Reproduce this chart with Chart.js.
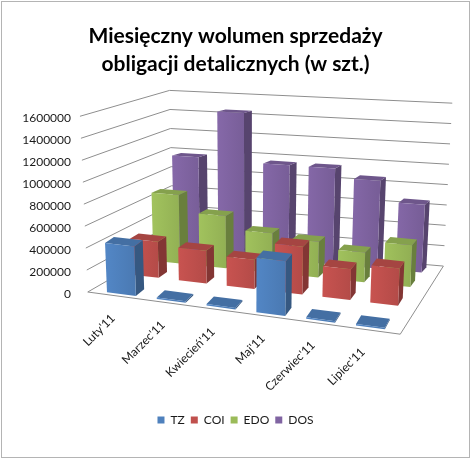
<!DOCTYPE html>
<html>
<head>
<meta charset="utf-8">
<script src="https://cdn.jsdelivr.net/npm/chart.js@4.4.1/dist/chart.umd.min.js"></script>
<style>
  html, body { margin: 0; padding: 0; background: #fff; }
  #wrap { width: 471px; height: 459px; }
</style>
</head>
<body>
<div id="wrap"><canvas id="barChart" width="471" height="459"></canvas></div>
<script>
const categories = ["Luty'11", "Marzec'11", "Kwiecień'11", "Maj'11", "Czerwiec'11", "Lipiec'11"];
const tzValues  = [450000, 0, 0, 485000, 0, 0];
const coiValues = [340000, 305000, 270000, 440000, 280000, 335000];
const edoValues = [670000, 505000, 380000, 340000, 280000, 390000];
const dosValues = [965000, 1440000, 945000, 945000, 855000, 655000];
const yTickValues = [0, 200000, 400000, 600000, 800000, 1000000, 1200000, 1400000, 1600000];

const FONT = 'Lato, "Open Sans", sans-serif';
const TEXT = '#1a1a1a';

// pseudo 3D look (Excel style): floor, walls and boxes projected from the bar elements
const M = 0.02;                       // side margin of the floor
const rowDepth = [0.03, 0.32, 0.59, 0.84];
const barDepth = 0.105;

function shade(hex, f) {
  const n = parseInt(hex.slice(1), 16);
  const r = Math.round(((n >> 16) & 255) * f), g = Math.round(((n >> 8) & 255) * f), b = Math.round((n & 255) * f);
  return 'rgb(' + Math.min(r, 255) + ',' + Math.min(g, 255) + ',' + Math.min(b, 255) + ')';
}

function makeProj(ca) {
  const W = ca.right - ca.left, H = ca.bottom - ca.top;
  const span = W / (1 - 2 * M);
  const x0 = ca.left - M * span, y0 = ca.bottom;
  const fl = [x0, y0], fr = [x0 + span, y0 + 0.135 * span];
  const bl = [x0 + 0.272 * span, y0 - 0.157 * span], br = [x0 + 1.138 * span, y0 - 0.083 * span];
  const cx = x0 + 0.51 * span, ld = 11.5 * span;
  const bil = (a, b, c, d, t, u) => (1 - t) * (1 - u) * a + t * (1 - u) * b + (1 - t) * u * c + t * u * d;
  return {
    H: H,
    t: px => M + (px - ca.left) / W * (1 - 2 * M),
    p(t, d, frac, minPx) {
      const dv = d + 0.33 * d * (1 - d);   // rough foreshortening of depth
      const fx = bil(fl[0], fr[0], bl[0], br[0], t, d);
      const fy = bil(fl[1], fr[1], bl[1], br[1], t, dv);
      const k = bil(1, 1.05, 0.868, 0.927, t, d);
      const h = Math.max(frac * H * k, minPx || 0);
      return [fx + (fx - cx) / ld * h, fy - h];
    }
  };
}

function poly(ctx, pts, fill) {
  ctx.beginPath();
  ctx.moveTo(pts[0][0], pts[0][1]);
  for (let i = 1; i < pts.length; i++) ctx.lineTo(pts[i][0], pts[i][1]);
  ctx.closePath();
  ctx.fillStyle = fill;
  ctx.fill();
}

const box3d = {
  id: 'box3d',
  beforeDatasetsDraw(chart) {
    const ctx = chart.ctx, ca = chart.chartArea;
    const pr = makeProj(ca);
    const yScale = chart.scales.y;

    // walls
    ctx.save();
    ctx.strokeStyle = '#8e8e8e';
    ctx.lineWidth = 1;
    yTickValues.forEach(v => {
      const f = (yScale.getPixelForValue(0) - yScale.getPixelForValue(v)) / pr.H;
      const a = pr.p(0, 0, f), b = pr.p(0, 1, f), c = pr.p(1, 1, f);
      ctx.beginPath();
      ctx.moveTo(a[0], a[1]); ctx.lineTo(b[0], b[1]); ctx.lineTo(c[0], c[1]);
      ctx.stroke();
    });
    const f0 = pr.p(0, 0, 0), f1 = pr.p(1, 0, 0), f2 = pr.p(1, 1, 0);
    ctx.beginPath();
    ctx.moveTo(f0[0], f0[1]); ctx.lineTo(f1[0], f1[1]); ctx.lineTo(f2[0], f2[1]);
    ctx.stroke();

    // boxes, back row first
    for (let di = chart.data.datasets.length - 1; di >= 0; di--) {
      const meta = chart.getDatasetMeta(di);
      const color = chart.data.datasets[di].backgroundColor;
      const d0 = rowDepth[di], d1 = d0 + barDepth;
      meta.data.forEach(el => {
        const p = el.getProps(['x', 'y', 'base', 'width'], true);
        const t0 = pr.t(p.x - p.width / 2), t1 = pr.t(p.x + p.width / 2);
        const fr = (p.base - p.y) / pr.H;
        const mp = 1.5;
        const a0 = pr.p(t0, d0, 0), a1 = pr.p(t1, d0, 0), a2 = pr.p(t1, d0, fr, mp), a3 = pr.p(t0, d0, fr, mp);
        const b1 = pr.p(t1, d1, 0), b2 = pr.p(t1, d1, fr, mp), b3 = pr.p(t0, d1, fr, mp);
        poly(ctx, [a1, b1, b2, a2], shade(color, 0.68));
        poly(ctx, [a3, a2, b2, b3], shade(color, 0.86));
        const g = ctx.createLinearGradient(a0[0], 0, a1[0], 0);
        g.addColorStop(0, shade(color, 1.04));
        g.addColorStop(1, shade(color, 0.94));
        poly(ctx, [a0, a1, a2, a3], g);
      });
    }
    ctx.restore();
    return false;
  },
  afterDraw(chart) {
    const ctx = chart.ctx, ca = chart.chartArea;
    const pr = makeProj(ca);
    const xScale = chart.scales.x;
    ctx.save();
    ctx.font = '12px ' + FONT;
    ctx.fillStyle = TEXT;
    ctx.textAlign = 'right';
    ctx.textBaseline = 'middle';
    chart.data.labels.forEach((lab, i) => {
      const q = pr.p(pr.t(xScale.getPixelForValue(i)), 0, 0);
      ctx.save();
      ctx.translate(q[0] - 6, q[1] + 20);
      ctx.rotate(-Math.PI / 4);
      ctx.fillText(lab, 0, 0);
      ctx.restore();
    });
    ctx.strokeStyle = '#b4b4b4';
    ctx.lineWidth = 1;
    ctx.strokeRect(1.5, 1.5, chart.width - 3, chart.height - 3);
    ctx.restore();
  }
};

new Chart(document.getElementById('barChart').getContext('2d'), {
  type: 'bar',
  data: {
    labels: categories,
    datasets: [
      { label: 'TZ', data: tzValues, backgroundColor: '#4F81BD' },
      { label: 'COI', data: coiValues, backgroundColor: '#C0504D' },
      { label: 'EDO', data: edoValues, backgroundColor: '#9BBB59' },
      { label: 'DOS', data: dosValues, backgroundColor: '#8064A2' }
    ]
  },
  options: {
    responsive: false,
    animation: false,
    devicePixelRatio: 1,
    layout: { padding: { left: 0, right: 0, top: 0, bottom: 23 } },
    datasets: { bar: { grouped: false, categoryPercentage: 1, barPercentage: 0.58 } },
    scales: {
      x: {
        grid: { display: false },
        border: { display: false },
        ticks: { display: false },
        afterFit(s) { s.height = 116; }
      },
      y: {
        min: 0,
        max: 1600000,
        afterBuildTicks(s) { s.ticks = yTickValues.map(v => ({ value: v })); },
        ticks: {
          padding: 23,
          labelOffset: 2,
          color: TEXT,
          font: { family: FONT, size: 12 },
          callback: v => String(v)
        },
        grid: { display: false, drawTicks: false },
        border: { display: false },
        afterFit(s) { s.width = 94; }
      },
      yRight: {
        position: 'right',
        grid: { display: false, drawTicks: false },
        border: { display: false },
        ticks: { display: false },
        afterFit(s) { s.width = 77; }
      }
    },
    plugins: {
      title: {
        display: true,
        text: ['Miesięczny wolumen sprzedaży', 'obligacji detalicznych (w szt.)'],
        color: '#000',
        font: { family: FONT, size: 21, weight: 'bold', lineHeight: 1.34 },
        padding: { top: 22, bottom: 38 }
      },
      legend: {
        position: 'bottom',
        labels: {
          boxWidth: 7,
          boxHeight: 7,
          padding: 6,
          color: TEXT,
          font: { family: FONT, size: 12 }
        }
      },
      tooltip: { enabled: false }
    }
  },
  plugins: [box3d]
});
</script>
</body>
</html>
